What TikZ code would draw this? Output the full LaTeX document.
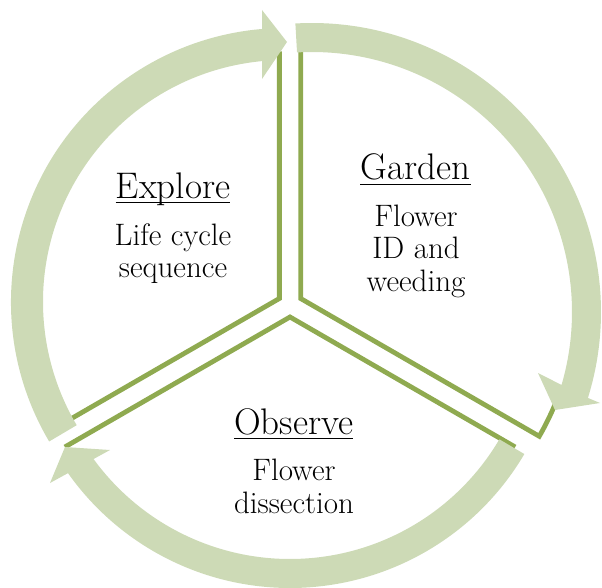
\documentclass[tikz,border=0pt]{standalone}
\usepackage{fontspec}
\setmainfont{Latin Modern Roman}
\definecolor{ringc}{RGB}{205,218,182}
\definecolor{linec}{RGB}{143,170,80}
\begin{document}
\begin{tikzpicture}[x=1pt,y=1pt,
  seg/.style={draw=linec,line width=4.8pt,line join=miter},
  ringarrow/.style={fill=ringc},
  headtxt/.style={font=\fontsize{37}{42}\selectfont,inner sep=0pt,anchor=base},
  bodytxt/.style={font=\fontsize{31}{34}\selectfont,inner sep=0pt,anchor=base},
  uline/.style={line width=1.3pt}]
\path[use as bounding box] (0,0) rectangle (602,-588);
\clip (0,0) rectangle (602,-588);
% apexes of the three segments and centres of the three arrows
\coordinate (AE) at (279.35,-298.5);
\coordinate (AG) at (300.65,-298.5);
\coordinate (AO) at (290,-317);
\coordinate (CE) at (285,-302);
\coordinate (CG) at (312,-312);
\coordinate (CO) at (290,-316);
% segment outlines
\draw[seg] ([shift={(90:247)}]AE) -- (AE) -- ([shift={(210:247)}]AE);
\draw[seg] ([shift={(90:250)}]AG) -- (AG) -- ([shift={(-30:275.5)}]AG)
  arc[start angle=-30,end angle=-20,radius=275.5];
\draw[seg] ([shift={(210:260)}]AO) -- (AO) -- ([shift={(-30:260)}]AO);
% arrows
\coordinate (tE) at (287,-42);
\coordinate (boE) at (262,-10);
\coordinate (biE) at (262,-79);
\fill[ringarrow] ([shift={(210.6:274)}]CE) arc[start angle=210.6,end angle=94.8,radius=274]
  -- (boE) -- (tE) -- (biE) -- ([shift={(95.45:242)}]CE)
  arc[start angle=95.45,end angle=210.6,radius=242] -- cycle;
\coordinate (tG) at (555,-410);
\coordinate (boG) at (600,-403);
\coordinate (biG) at (538,-373);
\fill[ringarrow] ([shift={(93.3:289)}]CG) arc[start angle=93.3,end angle=-17.3,radius=289]
  -- (boG) -- (tG) -- (biG) -- ([shift={(-16.3:260)}]CG)
  arc[start angle=-16.3,end angle=93.3,radius=260] -- cycle;
\coordinate (tO) at (65,-447);
\coordinate (boO) at (50,-483);
\coordinate (biO) at (110,-450);
\fill[ringarrow] ([shift={(-30.5:272)}]CO) arc[start angle=-30.5,end angle=-144.71,radius=272]
  -- (boO) -- (tO) -- (biO) -- ([shift={(-143.94:243)}]CO)
  arc[start angle=-143.94,end angle=-30.5,radius=243] -- cycle;
% texts
\node[headtxt] (hE) at (173,-198) {Explore};
\draw[uline] ([yshift=-4.5pt]hE.base west) -- ([yshift=-4.5pt]hE.base east);
\node[bodytxt] (bE1) at (173,-245.6) {Life cycle};
\node[bodytxt] (bE2) at (173,-277.5) {sequence};
\node[headtxt] (hG) at (415.5,-180) {Garden};
\draw[uline] ([yshift=-4.5pt]hG.base west) -- ([yshift=-4.5pt]hG.base east);
\node[bodytxt] (bG1) at (416,-226.8) {Flower};
\node[bodytxt] (bG2) at (416,-258.7) {ID and};
\node[bodytxt] (bG3) at (416,-291.7) {weeding};
\node[headtxt] (hO) at (293.7,-434.2) {Observe};
\draw[uline] ([yshift=-4.5pt]hO.base west) -- ([yshift=-4.5pt]hO.base east);
\node[bodytxt] (bO1) at (294,-480.7) {Flower};
\node[bodytxt] (bO2) at (294,-513) {dissection};
\end{tikzpicture}
\end{document}
